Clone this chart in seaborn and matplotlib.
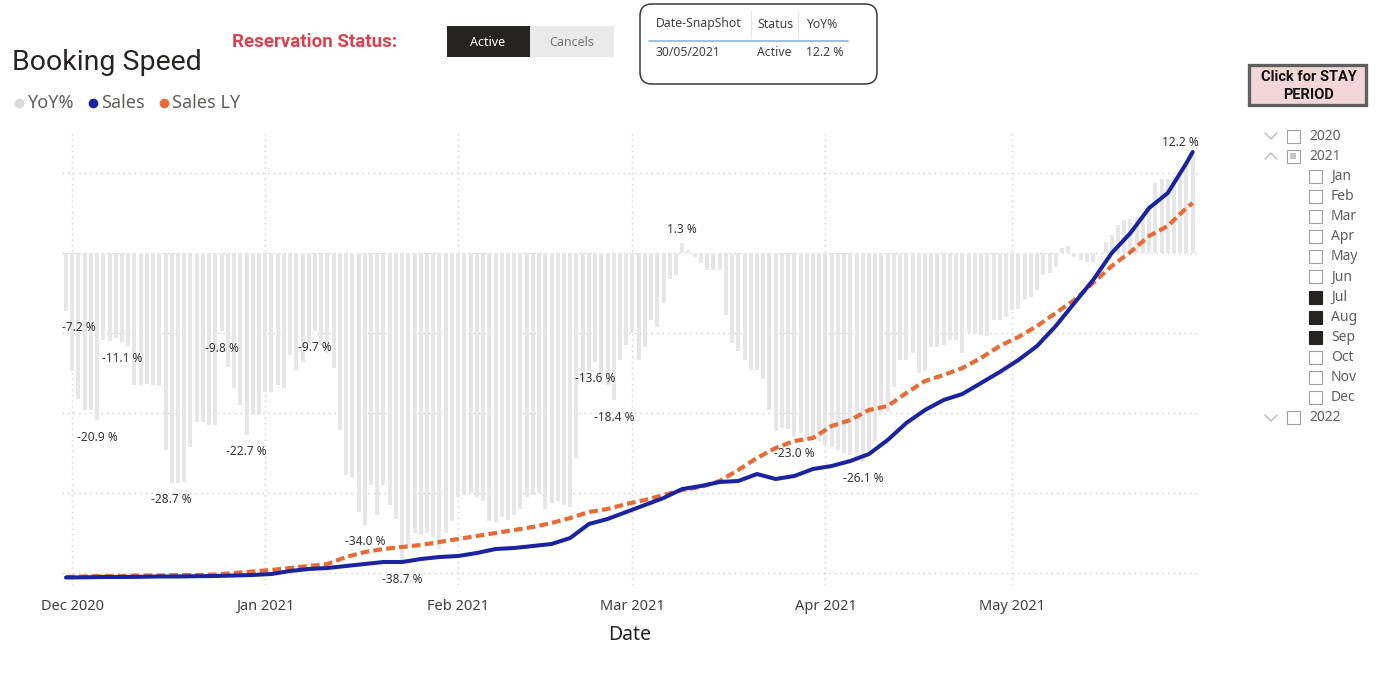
import numpy as np
import pandas as pd
import matplotlib
matplotlib.use("Agg")
import matplotlib.pyplot as plt
import matplotlib.dates as mdates
from matplotlib.patches import Rectangle, FancyBboxPatch
import seaborn as sns

# ------------------------------------------------------------------ data
start_date = "2020-11-30"
end_date = "2021-05-30"

# daily YoY% (bars), 2020-11-30 .. 2021-05-30
yoy_pct = [
    -7.2, -14.8, -18.2, -19.6, -19.6, -20.9, -10.9, -11.0, -10.6, -11.1,
    -11.6, -16.5, -16.5, -16.4, -16.5, -16.6, -24.6, -28.7, -28.7, -28.6,
    -24.2, -21.1, -21.1, -21.5, -21.5, -9.8, -14.2, -16.9, -19.0, -22.7,
    -20.3, -20.3, -17.4, -17.4, -16.5, -16.9, -12.8, -14.6, -13.6, -11.5,
    -9.7, -11.5, -12.5, -14.4, -22.1, -27.8, -28.1, -32.4, -34.0, -29.0,
    -32.8, -29.0, -31.5, -33.2, -38.7, -36.5, -35.0, -35.3, -35.0, -35.5,
    -37.0, -35.0, -33.5, -30.5, -30.2, -30.0, -30.5, -31.0, -33.5, -33.6,
    -33.0, -33.4, -32.8, -32.0, -30.5, -30.2, -30.0, -32.0, -31.2, -31.0,
    -31.5, -31.8, -25.6, -16.0, -14.8, -13.6, -15.5, -16.5, -18.4, -13.4,
    -11.5, -10.0, -13.4, -11.7, -8.4, -9.2, -6.3, -3.2, -2.8, 1.3,
    0.4, -0.5, -1.3, -2.1, -2.1, -2.1, -7.8, -11.3, -12.3, -13.4,
    -14.6, -14.6, -15.7, -19.6, -22.3, -21.9, -22.0, -23.0, -22.5, -23.4,
    -23.0, -23.5, -24.0, -24.2, -24.6, -25.0, -25.3, -25.6, -26.1, -24.8,
    -23.5, -20.0, -19.9, -16.7, -13.4, -13.4, -12.5, -15.0, -14.8, -11.7,
    -11.7, -11.5, -10.9, -10.9, -12.5, -10.0, -10.0, -10.3, -10.4, -8.4,
    -8.4, -8.0, -7.1, -7.0, -5.9, -5.5, -4.6, -2.7, -2.5, -1.7,
    0.6, 0.9, -0.5, -0.9, -1.1, -1.1, 0.0, 1.4, 2.2, 3.5,
    4.1, 4.3, 4.5, 4.4, 6.0, 8.7, 9.2, 9.3, 9.5, 10.0,
    11.0, 12.2,
]

# cumulative sales, sampled every 3 days (plus the snapshot day)
sales_ly = [
    1, 1.5, 2, 2, 2.5, 2.5, 3, 3, 3.5, 5,
    6.5, 8, 10, 12, 14, 21, 26, 29, 31, 33,
    36, 39, 42, 45, 48, 51, 55, 60, 66, 69,
    74, 78, 83, 88, 91, 97, 108, 120, 130, 137,
    140, 152, 158, 168, 172, 185, 197, 203, 210, 220,
    232, 241, 252, 265, 278, 295, 312, 326, 342, 352,
    370, 375,
]
sales = [
    0.5, 0.7, 1, 1, 1.2, 1.5, 1.5, 1.8, 2, 2.5,
    3, 4, 7, 9, 10, 12, 14, 16, 16, 19,
    21, 22, 25, 29, 30, 32, 34, 40, 54, 59,
    66, 73, 80, 89, 92, 96, 97, 104, 99, 102,
    109, 112, 117, 124, 138, 155, 168, 178, 184, 195,
    206, 218, 232, 252, 275, 298, 325, 345, 370, 385,
    415, 426,
]

labelled_days = ["2020-11-30", "2020-12-05", "2020-12-09", "2020-12-17", "2020-12-25",
                 "2020-12-29", "2021-01-09", "2021-01-17", "2021-01-23", "2021-02-23",
                 "2021-02-26", "2021-03-09", "2021-03-27", "2021-04-07", "2021-05-30"]

month_ticks = ["2020-12-01", "2021-01-01", "2021-02-01", "2021-03-01", "2021-04-01", "2021-05-01"]
month_labels = ["Dec 2020", "Jan 2021", "Feb 2021", "Mar 2021", "Apr 2021", "May 2021"]

legend_labels = ["YoY%", "Sales", "Sales LY"]
legend_colors = ["#D9D9D9", "#1A24A0", "#E66C37"]

status_options = ["Active", "Cancels"]
table_headers = ["Date-SnapShot", "Status", "YoY%"]
table_row = ["30/05/2021", "Active", "12.2 %"]

slicer_years = ["2020", "2021", "2022"]
slicer_months = ["Jan", "Feb", "Mar", "Apr", "May", "Jun",
                 "Jul", "Aug", "Sep", "Oct", "Nov", "Dec"]
selected_months = ["Jul", "Aug", "Sep"]

# ------------------------------------------------------------------ style
sns.set_theme(style="white")
plt.rcParams["font.family"] = ["Noto Sans", "DejaVu Sans"]

W, H = 1382, 686
fig = plt.figure(figsize=(W / 100, H / 100), dpi=100)
fig.patch.set_facecolor("white")

# overlay in pixel coordinates for the dashboard furniture
ov = fig.add_axes([0, 0, 1, 1], zorder=0)
ov.set_xlim(0, W)
ov.set_ylim(H, 0)
ov.axis("off")

# ------------------------------------------------------------------ chart
ax = fig.add_axes([62 / W, (H - 585) / H, 1136 / W, 455 / H], zorder=2)
ax.patch.set_alpha(0)

days = pd.date_range(start_date, end_date, freq="D")
bar_df = pd.DataFrame({"x": mdates.date2num(days), "yoy": yoy_pct})
sns.barplot(data=bar_df, x="x", y="yoy", native_scale=True, color="#E6E6E6",
            saturation=1, width=0.64, errorbar=None, linewidth=0, ax=ax)

line_days = list(pd.date_range(start_date, "2021-05-29", freq="3D")) + [pd.Timestamp(end_date)]
line_df = pd.DataFrame({"x": mdates.date2num(line_days), "sales": sales, "ly": sales_ly})

ax2 = ax.twinx()
ax2.set_zorder(3)
ax2.patch.set_visible(False)
sns.lineplot(data=line_df, x="x", y="ly", ax=ax2, color=legend_colors[2], linewidth=3.0)
sns.lineplot(data=line_df, x="x", y="sales", ax=ax2, color=legend_colors[1], linewidth=2.9)
ax2.lines[0].set_linestyle((0, (2.1, 1.0)))

x0 = mdates.date2num(pd.Timestamp(start_date))
ax.set_xlim(x0 - 0.64, x0 + 181.85)
ax.set_ylim(-41.5, 15.375)
ax2.set_ylim(-7, 448)

ax.set_yticks([-40, -30, -20, -10, 0, 10])
ax.set_xticks(mdates.date2num(pd.to_datetime(month_ticks)))
ax.set_xticklabels(month_labels, fontsize=10.5, color="#404040")
ax.tick_params(axis="x", length=0, pad=10)
ax.tick_params(axis="y", length=0, labelleft=False)
ax2.set_yticks([])
ax2.set_ylabel("")
ax.set_ylabel("")
ax2.set_xlabel("")
ax.set_xlabel("Date", fontsize=14, color="#252423", labelpad=8)
ax.set_axisbelow(True)
ax.grid(True, axis="both", linestyle=(0, (1, 3)), color="#D0D0D0", linewidth=1)
ax2.grid(False)
for a in (ax, ax2):
    for s in a.spines.values():
        s.set_visible(False)

# data labels
lab_dates = pd.to_datetime(labelled_days)
for d in lab_dates:
    i = int((d - days[0]).days)
    v = yoy_pct[i]
    xd = mdates.date2num(d)
    ha = "center"
    dx = 0
    if i == 0:
        ha, dx = "left", -3
    elif i == len(yoy_pct) - 1:
        ha, dx = "right", 4
    dy = 9.4 if v >= 0 else -12.2
    ax.annotate(f"{v:.1f} %", (xd, v), xytext=(dx, dy), textcoords="offset points",
                ha=ha, va="center", fontsize=8.5, color="#333333", zorder=5)

# ------------------------------------------------------------------ header
ov.text(12, 62, "Booking Speed", fontsize=20.5, family="Roboto", color="#252423", va="center", ha="left")

lx = [19, 93, 164]
for x, lab, col in zip(lx, legend_labels, legend_colors):
    ov.plot([x], [103], marker="o", markersize=7, color=col, markeredgewidth=0)
    ov.text(x + 8, 103, lab, fontsize=13, color="#605E5C", va="center", ha="left")

ov.text(232, 42, "Reservation Status:", fontsize=13.5, family="Roboto", weight="bold",
        color="#D9434F", va="center", ha="left")
ov.add_patch(Rectangle((447, 26), 83, 31, facecolor="#252423", edgecolor="none"))
ov.add_patch(Rectangle((530, 26), 84, 31, facecolor="#EAEAEA", edgecolor="none"))
ov.text(488, 42, status_options[0], fontsize=9, color="white", ha="center", va="center")
ov.text(572, 42, status_options[1], fontsize=9, color="#777777", ha="center", va="center")

# snapshot card
ov.add_patch(FancyBboxPatch((640, 4), 237, 80, boxstyle="round,pad=0,rounding_size=12",
                            facecolor="white", edgecolor="#3A3A3A", linewidth=1.1))
col_x = [656, 757, 806]
for x, h in zip(col_x, table_headers):
    ov.text(x, 24, h, fontsize=8.8, color="#404040", ha="left", va="center")
for x, r in zip(col_x, table_row):
    ov.text(x, 52, r, fontsize=8.8, color="#404040", ha="left", va="center")
ov.plot([649, 848], [41, 41], color="#8DB4E2", linewidth=1.2)
for x in (751, 798):
    ov.plot([x, x], [10, 38], color="#E6E6E6", linewidth=0.8)

# ------------------------------------------------------------------ right slicer
ov.add_patch(Rectangle((1249, 65), 117, 40, facecolor="#F3D6D9", edgecolor="#5F5F5F", linewidth=2.4))
ov.text(1309, 77, "Click for STAY", fontsize=10.5, family="Roboto", weight="bold",
        color="#111111", ha="center", va="center")
ov.text(1309, 95, "PERIOD", fontsize=10.5, family="Roboto", weight="bold",
        color="#111111", ha="center", va="center")

def chevron(x, y, up):
    s = -1 if up else 1
    ov.plot([x - 6, x, x + 6], [y - 3 * s, y + 3 * s, y - 3 * s], color="#B8B8B8", linewidth=1)

def checkbox(x, y, state):
    ov.add_patch(Rectangle((x, y - 6.5), 13, 13, facecolor="#252423" if state == "on" else "white",
                           edgecolor="#A0A0A0" if state != "on" else "#252423", linewidth=0.8))
    if state == "partial":
        ov.add_patch(Rectangle((x + 3.5, y - 3), 6, 6, facecolor="#C8C8C8", edgecolor="none"))

row_h = 20.14
y = 136
rows = []
for yr in slicer_years:
    rows.append(("year", yr))
    if yr == "2021":
        for m in slicer_months:
            rows.append(("month", m))
for kind, name in rows:
    if kind == "year":
        chevron(1271, y, up=(name == "2021"))
        checkbox(1287, y, "partial" if name == "2021" else "off")
        ov.text(1309, y, name, fontsize=10, color="#605E5C", ha="left", va="center")
    else:
        checkbox(1309, y, "on" if name in selected_months else "off")
        ov.text(1331, y, name, fontsize=10, color="#605E5C", ha="left", va="center")
    y += row_h

fig.savefig("out.png", dpi=100, facecolor="white")
